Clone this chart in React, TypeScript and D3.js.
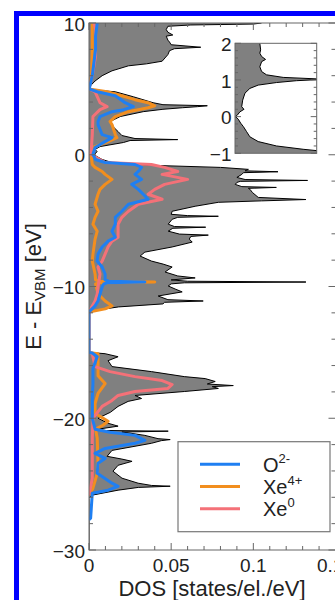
import * as d3 from "d3";

const width = 335;
const height = 600;
const plot = { left: 89, right: 335.5, top: 23, bottom: 550 };
const inset = { left: 235, right: 316.7, top: 43.3, bottom: 153.3 };

// [energy (eV), DOS]
const totalDos: [number, number][] = [
  [10.0, 0.105], [9.92, 0.1], [9.85, 0.062], [9.75, 0.048], [9.5, 0.047],
  [9.3, 0.048], [9.09, 0.051], [9.0, 0.047], [8.7, 0.048], [8.55, 0.049],
  [8.35, 0.05], [8.16, 0.068], [8.05, 0.052], [7.9, 0.049], [7.6, 0.048],
  [7.1, 0.0445], [6.9, 0.035], [6.75, 0.024], [6.37, 0.014], [6.0, 0.008],
  [5.6, 0.0037], [5.2, 0.0006], [4.96, 0], [4.9, 0.004], [4.78, 0.016],
  [4.4, 0.027], [3.95, 0.039], [3.8, 0.045], [3.72, 0.072], [3.65, 0.066],
  [3.57, 0.057], [3.45, 0.045], [3.27, 0.033], [2.9, 0.019], [2.52, 0.0128],
  [2.14, 0.0146], [1.76, 0.0177], [1.46, 0.02], [1.23, 0.028], [1.15, 0.054],
  [1.08, 0.025], [0.93, 0.021], [0.62, 0.0067], [0.4, 0.0037], [0.25, 0.0049],
  [0.1, 0.004], [0.0, 0.003], [-0.36, 0.008], [-0.59, 0.014], [-0.81, 0.04],
  [-0.96, 0.08], [-1.11, 0.097], [-1.22, 0.095], [-1.29, 0.115], [-1.36, 0.094],
  [-1.49, 0.093], [-1.72, 0.09], [-1.88, 0.095], [-1.95, 0.133], [-2.02, 0.092],
  [-2.1, 0.09], [-2.25, 0.089], [-2.42, 0.093], [-2.48, 0.114], [-2.55, 0.097],
  [-2.63, 0.098], [-2.86, 0.0994], [-3.24, 0.103], [-3.4, 0.132], [-3.5, 0.105],
  [-3.61, 0.0787], [-3.91, 0.0646], [-4.29, 0.0506], [-4.52, 0.05], [-4.62, 0.06],
  [-4.67, 0.0787], [-4.75, 0.054], [-4.9, 0.0506], [-5.27, 0.0482], [-5.45, 0.052],
  [-5.5, 0.071], [-5.58, 0.051], [-5.8, 0.0482], [-6.02, 0.055], [-6.1, 0.0726],
  [-6.2, 0.062], [-6.4, 0.061], [-6.63, 0.0628], [-7.0, 0.0506], [-7.39, 0.034],
  [-7.69, 0.0311], [-8.07, 0.038], [-8.3, 0.0451], [-8.52, 0.0506], [-8.9, 0.0463],
  [-9.2, 0.054], [-9.35, 0.0646], [-9.5, 0.05], [-9.6, 0.06], [-9.66, 0.132],
  [-9.72, 0.058], [-9.8, 0.05], [-9.96, 0.0482], [-10.19, 0.0524], [-10.41, 0.0567],
  [-10.72, 0.0421], [-11.0, 0.048], [-11.1, 0.0695], [-11.2, 0.046], [-11.32, 0.045],
  [-11.55, 0.018], [-11.77, 0.006], [-11.93, 0], [-15.0, 0], [-15.1, 0.0098],
  [-15.33, 0.0177], [-15.63, 0.0116], [-16.08, 0.014], [-16.46, 0.038], [-16.84, 0.058],
  [-16.99, 0.0707], [-17.21, 0.0768], [-17.4, 0.072], [-17.52, 0.0878], [-17.6, 0.075],
  [-17.74, 0.0787], [-17.97, 0.058], [-18.27, 0.028], [-18.5, 0.032], [-18.72, 0.0238],
  [-19.1, 0.0177], [-19.55, 0.013], [-19.63, 0.0116], [-20.0, 0.0055], [-20.38, 0.0116],
  [-20.6, 0.0177], [-20.83, 0.0055], [-20.93, 0.01], [-20.98, 0.0482], [-21.05, 0.02],
  [-21.13, 0.025], [-21.3, 0.034], [-21.55, 0.042], [-21.62, 0.0494], [-21.7, 0.044],
  [-21.9, 0.038], [-22.44, 0.014], [-22.89, 0.011], [-23.1, 0.02], [-23.27, 0.0262],
  [-23.57, 0.0177], [-24.02, 0.0146], [-24.55, 0.0201], [-24.93, 0.0299], [-25.1, 0.038],
  [-25.16, 0.0494], [-25.25, 0.03], [-25.46, 0.0177], [-25.84, 0.0018], [-26.07, 0],
  [-30, 0],
];

const oDos: [number, number][] = [
  [10.0, 0.005], [9.0, 0.004], [8.0, 0.004], [7.0, 0.003], [6.0, 0.002],
  [5.2, 0.0005], [5.0, 0], [4.78, 0.005], [4.48, 0.016], [3.95, 0.022],
  [3.65, 0.027], [3.42, 0.021], [3.27, 0.014], [2.9, 0.0067], [2.52, 0.0055],
  [2.29, 0.0055], [1.53, 0.008], [1.3, 0.014], [1.0, 0.0098], [0.55, 0.0037],
  [0.02, 0.0024], [-0.36, 0.004], [-0.59, 0.0098], [-0.74, 0.028], [-0.96, 0.032],
  [-1.27, 0.03], [-1.49, 0.028], [-1.87, 0.032], [-2.25, 0.026], [-2.63, 0.03],
  [-3.0, 0.033], [-3.38, 0.036], [-3.76, 0.024], [-4.29, 0.02], [-4.75, 0.016],
  [-5.27, 0.016], [-5.8, 0.014], [-6.26, 0.016], [-6.56, 0.0116], [-7.0, 0.008],
  [-7.54, 0.0055], [-8.07, 0.0049], [-8.52, 0.008], [-9.05, 0.0098], [-9.5, 0.0098],
  [-9.6, 0.012], [-9.66, 0.034], [-9.72, 0.011], [-9.81, 0.009], [-10.04, 0.008],
  [-10.57, 0.0067], [-11.1, 0.0055], [-11.47, 0.0037], [-11.93, 0], [-15.0, 0],
  [-15.05, 0.002], [-15.33, 0.005], [-16.23, 0.0024], [-17.37, 0.0024], [-18.5, 0.002],
  [-20.0, 0.002], [-20.83, 0.0037], [-21.06, 0.0128], [-21.3, 0.028], [-21.68, 0.034],
  [-21.9, 0.028], [-22.29, 0.0098], [-22.67, 0.0037], [-23.05, 0.0098], [-23.42, 0.0055],
  [-24.18, 0.005], [-24.93, 0.014], [-25.16, 0.0177], [-25.46, 0.0116], [-25.69, 0.002],
  [-27.58, 0.001], [-27.7, 0],
];

const xe4Dos: [number, number][] = [
  [10.0, 0.002], [8.0, 0.002], [6.0, 0.0015], [5.0, 0], [4.78, 0.011],
  [4.48, 0.02], [4.18, 0.028], [3.95, 0.036], [3.72, 0.04], [3.57, 0.036],
  [3.27, 0.024], [2.9, 0.016], [2.52, 0.0128], [2.29, 0.014], [1.53, 0.016],
  [1.3, 0.017], [1.0, 0.0116], [0.55, 0.0024], [0.02, 0.0012], [-0.74, 0.002],
  [-0.96, 0.0037], [-1.27, 0.008], [-1.49, 0.0098], [-1.87, 0.014], [-2.25, 0.0098],
  [-2.63, 0.0067], [-3.0, 0.0055], [-3.76, 0.0037], [-4.29, 0.0055], [-4.75, 0.0037],
  [-5.27, 0.0024], [-5.8, 0.005], [-6.4, 0.0037], [-7.54, 0.0024], [-8.07, 0.002],
  [-9.05, 0.0037], [-9.5, 0.004], [-9.6, 0.006], [-9.66, 0.04], [-9.72, 0.006],
  [-9.81, 0.004], [-10.57, 0.0055], [-11.1, 0.0098], [-11.47, 0.014], [-11.7, 0.0098],
  [-11.93, 0], [-15.0, 0], [-15.1, 0.0055], [-15.86, 0.0055], [-16.77, 0.0055],
  [-17.37, 0.0098], [-18.12, 0.0055], [-18.88, 0.0037], [-19.63, 0.0037], [-20.23, 0.0116],
  [-20.53, 0.0085], [-20.83, 0.004], [-21.51, 0.005], [-23.42, 0.0055], [-24.18, 0.005],
  [-25.31, 0.0024], [-25.84, 0],
];

const xe0Dos: [number, number][] = [
  [10.0, 0.003], [9.5, 0.004], [7.5, 0.004], [6.0, 0.002], [5.0, 0],
  [4.78, 0.0037], [3.95, 0.0067], [3.65, 0.011], [3.42, 0.0067], [2.9, 0.0024],
  [1.53, 0.002], [0.02, 0.0012], [-0.59, 0.0098], [-0.74, 0.038], [-0.96, 0.046],
  [-1.27, 0.054], [-1.49, 0.0445], [-1.87, 0.06], [-2.25, 0.046], [-2.63, 0.04],
  [-3.0, 0.036], [-3.38, 0.0445], [-3.76, 0.03], [-4.29, 0.024], [-4.75, 0.02],
  [-5.27, 0.0177], [-5.8, 0.0177], [-6.26, 0.0177], [-6.56, 0.014], [-7.0, 0.0116],
  [-7.54, 0.0098], [-8.07, 0.008], [-8.52, 0.0055], [-9.05, 0.0067], [-10.04, 0.0055],
  [-10.57, 0.005], [-11.1, 0.0037], [-11.93, 0], [-15.0, 0], [-15.1, 0.002],
  [-16.08, 0.0037], [-16.46, 0.0128], [-16.84, 0.028], [-17.14, 0.0445], [-17.44, 0.0506],
  [-17.74, 0.048], [-17.97, 0.028], [-18.27, 0.0177], [-18.65, 0.014], [-19.1, 0.008],
  [-20.0, 0.0024], [-21.51, 0.002], [-24.55, 0.002], [-25.84, 0],
];

// inset: zoom of the gap region
const insetDos: [number, number][] = [
  [2.0, 0.0152], [1.82, 0.0157], [1.73, 0.0152], [1.64, 0.0163], [1.56, 0.0187],
  [1.5, 0.0163], [1.36, 0.0152], [1.23, 0.0163], [1.14, 0.0193], [1.07, 0.0295],
  [1.02, 0.055], [0.98, 0.0376], [0.93, 0.0254], [0.86, 0.0142], [0.77, 0.0091],
  [0.64, 0.0061], [0.45, 0.0047], [0.27, 0.0041], [0.2, 0.0055], [0.13, 0.003],
  [0.04, 0.0014], [0.0, 0.0003], [-0.07, 0.002], [-0.18, 0.0035], [-0.27, 0.0051],
  [-0.41, 0.0071], [-0.55, 0.0091], [-0.68, 0.0142], [-0.8, 0.0254], [-0.89, 0.0417],
  [-0.95, 0.055], [-1.0, 0.055],
];

const xTicks = [0, 0.05, 0.1, 0.15];
const xTickLabels = ["0", "0.05", "0.1", "0.15"];
const yTicks = [10, 0, -10, -20, -30];
const yTickLabels = ["10", "0", "\u221210", "\u221220", "\u221230"];
const insetTicks = [2, 1, 0, -1];
const insetTickLabels = ["2", "1", "0", "\u22121"];

const series = [
  { key: "xe4", data: xe4Dos, color: "#f28e1e", label: "Xe", sup: "4+" },
  { key: "xe0", data: xe0Dos, color: "#f47178", label: "Xe", sup: "0" },
  { key: "o", data: oDos, color: "#1f7ff2", label: "O", sup: "2-" },
];
const legendOrder = ["o", "xe4", "xe0"];

const font = "'Liberation Sans', Arial, Helvetica, sans-serif";
const frameColor = "#666";

export default function App() {
  const x = d3.scaleLinear().domain([0, 0.15]).range([plot.left, plot.right]);
  const y = d3.scaleLinear().domain([-30, 10]).range([plot.bottom, plot.top]);
  const ix = d3.scaleLinear().domain([0, 0.05]).range([inset.left, inset.right]);
  const iy = d3.scaleLinear().domain([-1, 2]).range([inset.bottom, inset.top]);

  const area = d3
    .area<[number, number]>()
    .y((d) => y(d[0]))
    .x0(x(0))
    .x1((d) => x(d[1]));
  const line = d3
    .line<[number, number]>()
    .x((d) => x(d[1]))
    .y((d) => y(d[0]));
  const insetArea = d3
    .area<[number, number]>()
    .y((d) => iy(d[0]))
    .x0(ix(0))
    .x1((d) => ix(d[1]));
  const insetLine = d3
    .line<[number, number]>()
    .x((d) => ix(d[1]))
    .y((d) => iy(d[0]));

  const xMinor = d3.range(0, 0.1501, 0.01);
  const yMinor = d3.range(-30, 10.01, 2);
  const iyMinor = d3.range(-1, 2.001, 0.2);

  return (
    <svg
      width={width}
      height={height}
      style={{ position: "absolute", left: 0, top: 0, display: "block", background: "#fff" }}
      fontFamily={font}
    >
      <defs>
        <clipPath id="plot-clip">
          <rect x={plot.left} y={plot.top} width={plot.right - plot.left} height={plot.bottom - plot.top} />
        </clipPath>
        <clipPath id="inset-clip">
          <rect x={inset.left} y={inset.top} width={inset.right - inset.left} height={inset.bottom - inset.top} />
        </clipPath>
      </defs>

      {/* blue border */}
      <rect x={16.5} y={13.5} width={400} height={700} fill="none" stroke="#0000ff" strokeWidth={5} />

      {/* main DOS */}
      <g clipPath="url(#plot-clip)">
        <path d={area(totalDos) ?? ""} fill="#808080" />
        <path d={line(totalDos) ?? ""} fill="none" stroke="#000" strokeWidth={1} />
        {series.map((s) => (
          <path
            key={s.key}
            d={line(s.data) ?? ""}
            fill="none"
            stroke={s.color}
            strokeWidth={3}
            strokeLinejoin="round"
          />
        ))}
      </g>

      {/* frame and ticks */}
      <rect
        x={plot.left}
        y={plot.top}
        width={plot.right - plot.left}
        height={plot.bottom - plot.top}
        fill="none"
        stroke={frameColor}
        strokeWidth={1}
      />
      <g stroke={frameColor} strokeWidth={1}>
        {xMinor.map((v, i) => {
          const len = i % 5 === 0 ? 7 : 4;
          return (
            <g key={`xt${i}`}>
              <line x1={x(v)} x2={x(v)} y1={plot.bottom} y2={plot.bottom - len} />
              <line x1={x(v)} x2={x(v)} y1={plot.top} y2={plot.top + len} />
            </g>
          );
        })}
        {yMinor.map((v, i) => {
          const len = i % 5 === 0 ? 7 : 4;
          return (
            <g key={`yt${i}`}>
              <line x1={plot.left} x2={plot.left + len} y1={y(v)} y2={y(v)} />
              <line x1={plot.right} x2={plot.right - len} y1={y(v)} y2={y(v)} />
            </g>
          );
        })}
      </g>

      <g fontSize={19} fill="#222">
        {xTicks.map((v, i) => (
          <text key={`xl${i}`} x={x(v)} y={571.5} textAnchor="middle">
            {xTickLabels[i]}
          </text>
        ))}
        {yTicks.map((v, i) => (
          <text key={`yl${i}`} x={plot.left - 4} y={y(v)} dy="0.4em" textAnchor="end">
            {yTickLabels[i]}
          </text>
        ))}
      </g>

      <text x={212} y={596} textAnchor="middle" fontSize={22} fill="#222">
        DOS [states/el./eV]
      </text>
      <text
        transform={`translate(41, ${(plot.top + plot.bottom) / 2}) rotate(-90)`}
        textAnchor="middle"
        fontSize={22}
        fill="#222"
      >
        E - E
        <tspan fontSize={15} dy={4}>
          VBM
        </tspan>
        <tspan dy={-4}> [eV]</tspan>
      </text>

      {/* inset */}
      <rect
        x={inset.left}
        y={inset.top}
        width={inset.right - inset.left}
        height={inset.bottom - inset.top}
        fill="#fff"
      />
      <g clipPath="url(#inset-clip)">
        <path d={insetArea(insetDos) ?? ""} fill="#808080" />
        <path d={insetLine(insetDos) ?? ""} fill="none" stroke="#000" strokeWidth={1} />
      </g>
      <rect
        x={inset.left}
        y={inset.top}
        width={inset.right - inset.left}
        height={inset.bottom - inset.top}
        fill="none"
        stroke={frameColor}
        strokeWidth={1}
      />
      <g stroke={frameColor} strokeWidth={1}>
        {iyMinor.map((v, i) => {
          const len = i % 5 === 0 ? 6 : 3;
          return (
            <g key={`it${i}`}>
              <line x1={inset.left} x2={inset.left + len} y1={iy(v)} y2={iy(v)} />
              <line x1={inset.right} x2={inset.right - len} y1={iy(v)} y2={iy(v)} />
            </g>
          );
        })}
      </g>
      <g fontSize={19} fill="#222">
        {insetTicks.map((v, i) => (
          <text key={`il${i}`} x={inset.left - 3.5} y={iy(v)} dy="0.4em" textAnchor="end">
            {insetTickLabels[i]}
          </text>
        ))}
      </g>

      {/* legend */}
      <rect x={178} y={441.7} width={152} height={90} fill="#fff" stroke="#777" strokeWidth={1.2} />
      {legendOrder.map((k, i) => {
        const s = series.find((d) => d.key === k)!;
        const ly = 464.3 + i * 22.2;
        return (
          <g key={`lg${k}`}>
            <line x1={200} x2={240} y1={ly} y2={ly} stroke={s.color} strokeWidth={3} />
            <text x={263} y={ly + 7.5} fontSize={20} fill="#222">
              {s.label}
              <tspan fontSize={13} dy={-9}>
                {s.sup}
              </tspan>
            </text>
          </g>
        );
      })}
    </svg>
  );
}
